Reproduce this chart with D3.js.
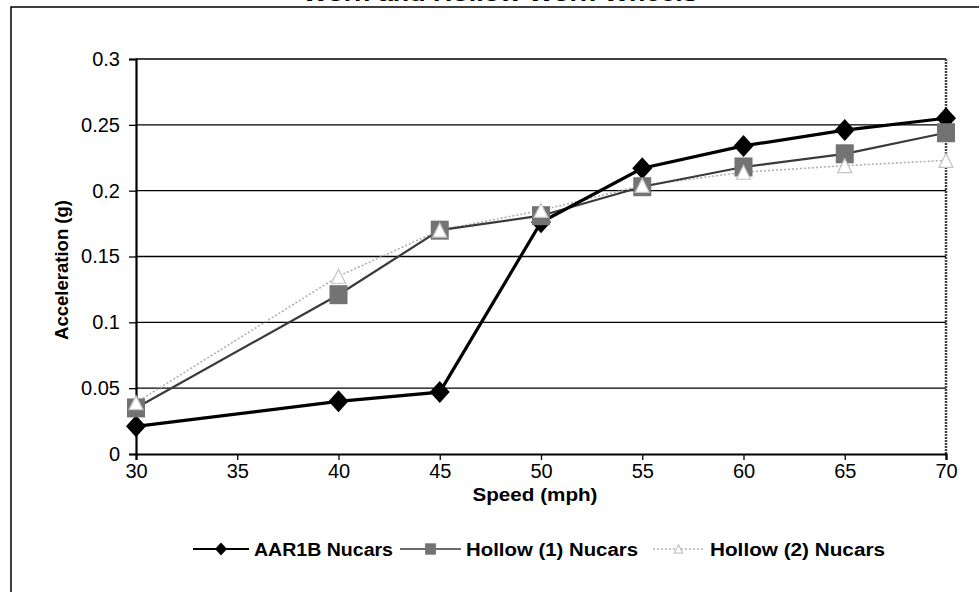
<!DOCTYPE html>
<html>
<head>
<meta charset="utf-8">
<script src="https://cdn.jsdelivr.net/npm/d3@7"></script>
<style>
  html, body { margin: 0; padding: 0; background: #fff; }
  svg { display: block; font-family: "Liberation Sans", Arial, sans-serif; }
</style>
</head>
<body>
<svg id="chart" width="979" height="592"></svg>
<script>
// Acceleration versus speed for three wheel profiles
const speeds = [30, 40, 45, 50, 55, 60, 65, 70];
const aar1b   = [0.021, 0.040, 0.047, 0.176, 0.217, 0.234, 0.246, 0.255];
const hollow1 = [0.035, 0.121, 0.170, 0.181, 0.203, 0.218, 0.228, 0.244];
const hollow2 = [0.039, 0.135, 0.170, 0.185, 0.204, 0.214, 0.219, 0.223];
const xTicks = [30, 35, 40, 45, 50, 55, 60, 65, 70];
const yTicks = [0, 0.05, 0.1, 0.15, 0.2, 0.25, 0.3];
const seriesNames = ["AAR1B Nucars", "Hollow (1) Nucars", "Hollow (2) Nucars"];

const svg = d3.select("#chart");
const plot = { left: 136, right: 946, top: 59, bottom: 454 };

const x = d3.scaleLinear().domain([30, 70]).range([plot.left, plot.right]);
const y = d3.scaleLinear().domain([0, 0.3]).range([plot.bottom, plot.top]);

// Stretch a text element to a given drawn width
function fitWidth(sel, w) {
  sel.attr("textLength", w).attr("lengthAdjust", "spacingAndGlyphs");
  return sel;
}

// Title, mostly running off the top edge
fitWidth(svg.append("text").attr("x", 500).attr("y", 1)
  .attr("text-anchor", "middle").attr("font-weight", "bold").attr("font-size", 20)
  .text("Worn and Hollow Worn Wheels"), 395);

// Outer frame
svg.append("rect").attr("x", 11).attr("y", 7).attr("width", 1000).attr("height", 700)
  .attr("fill", "none").attr("stroke", "#000").attr("stroke-width", 1.5);

// Horizontal gridlines
svg.append("g").selectAll("line").data(yTicks.slice(1)).join("line")
  .attr("x1", plot.left).attr("x2", plot.right)
  .attr("y1", d => y(d)).attr("y2", d => y(d))
  .attr("stroke", "#000").attr("stroke-width", 1.3);

// Plot frame right side
svg.append("line").attr("x1", plot.right).attr("x2", plot.right)
  .attr("y1", plot.top).attr("y2", plot.bottom)
  .attr("stroke", "#444").attr("stroke-width", 2.5).attr("stroke-dasharray", "2,1");

// Axes
const yAxis = svg.append("g").attr("transform", `translate(${plot.left},0)`)
  .call(d3.axisLeft(y).tickValues(yTicks).tickFormat(d3.format("~g")).tickSize(7).tickPadding(9));
const xAxis = svg.append("g").attr("transform", `translate(0,${plot.bottom})`)
  .call(d3.axisBottom(x).tickValues(xTicks).tickSize(6).tickPadding(4));
[yAxis, xAxis].forEach(a => {
  a.select(".domain").attr("stroke", "#000").attr("stroke-width", 2.2);
  a.selectAll(".tick line").attr("stroke", "#000").attr("stroke-width", 1.3);
  a.selectAll(".tick text")
    .attr("font-size", 20)
    .style("font-size", "20px")
    .style("font-family", "'Liberation Sans', Arial, sans-serif")
    .attr("fill", "#000");
});

// Axis titles
fitWidth(svg.append("text").attr("transform", `translate(68,${270}) rotate(-90)`)
  .attr("text-anchor", "middle").attr("font-weight", "bold").attr("font-size", 18)
  .text("Acceleration (g)"), 140);
fitWidth(svg.append("text").attr("x", 535).attr("y", 501)
  .attr("text-anchor", "middle").attr("font-weight", "bold").attr("font-size", 18)
  .text("Speed (mph)"), 125);

// Series styles
const series = [
  { name: seriesNames[0], values: aar1b, stroke: "#000", width: 3.2, dash: null, marker: "diamond" },
  { name: seriesNames[1], values: hollow1, stroke: "#3a3a3a", width: 2.2, dash: null, marker: "square" },
  { name: seriesNames[2], values: hollow2, stroke: "#b0b0b0", width: 1.6, dash: "2,2", marker: "triangle" }
];

const line = d3.line().x((d, i) => x(speeds[i])).y(d => y(d));

function diamondPath(cx, cy, hw, hh) {
  return `M${cx},${cy - hh}L${cx + hw},${cy}L${cx},${cy + hh}L${cx - hw},${cy}Z`;
}
function trianglePath(cx, cy, hw, hh) {
  return `M${cx},${cy - hh}L${cx + hw},${cy + hh}L${cx - hw},${cy + hh}Z`;
}

function drawMarker(g, type, cx, cy, k) {
  if (type === "diamond") {
    g.append("path").attr("d", diamondPath(cx, cy, 10 * k, 11 * k)).attr("fill", "#000");
  } else if (type === "square") {
    g.append("rect").attr("x", cx - 9 * k).attr("y", cy - 9.5 * k)
      .attr("width", 18 * k).attr("height", 19 * k).attr("fill", "#737373");
  } else {
    g.append("path").attr("d", trianglePath(cx, cy, 7 * k, 7 * k))
      .attr("fill", "#fff").attr("stroke", "#c4c4c4").attr("stroke-width", 1.2);
  }
}

// Series lines
series.slice().reverse().forEach(s => {
  svg.append("path").datum(s.values).attr("d", line)
    .attr("fill", "none").attr("stroke", s.stroke).attr("stroke-width", s.width)
    .attr("stroke-dasharray", s.dash);
});
// Markers: diamonds, then squares, then triangles on top
series.forEach(s => {
  const g = svg.append("g");
  s.values.forEach((v, i) => drawMarker(g, s.marker, x(speeds[i]), y(v), 1));
});

// Legend
const legendItems = [
  { s: series[0], x1: 193, x2: 249, tx: 254, w: 139 },
  { s: series[1], x1: 400, x2: 461, tx: 466, w: 172 },
  { s: series[2], x1: 653, x2: 704, tx: 710, w: 175 }
];
const ly = 549;
legendItems.forEach(it => {
  const g = svg.append("g");
  g.append("line").attr("x1", it.x1).attr("x2", it.x2).attr("y1", ly).attr("y2", ly)
    .attr("stroke", it.s.stroke).attr("stroke-width", it.s.marker === "diamond" ? 2 : 1.5)
    .attr("stroke-dasharray", it.s.dash);
  drawMarker(g, it.s.marker, (it.x1 + it.x2) / 2, ly, 0.6);
  fitWidth(g.append("text").attr("x", it.tx).attr("y", ly + 7).attr("font-weight", "bold")
    .attr("font-size", 18).text(it.s.name), it.w);
});
</script>
</body>
</html>
